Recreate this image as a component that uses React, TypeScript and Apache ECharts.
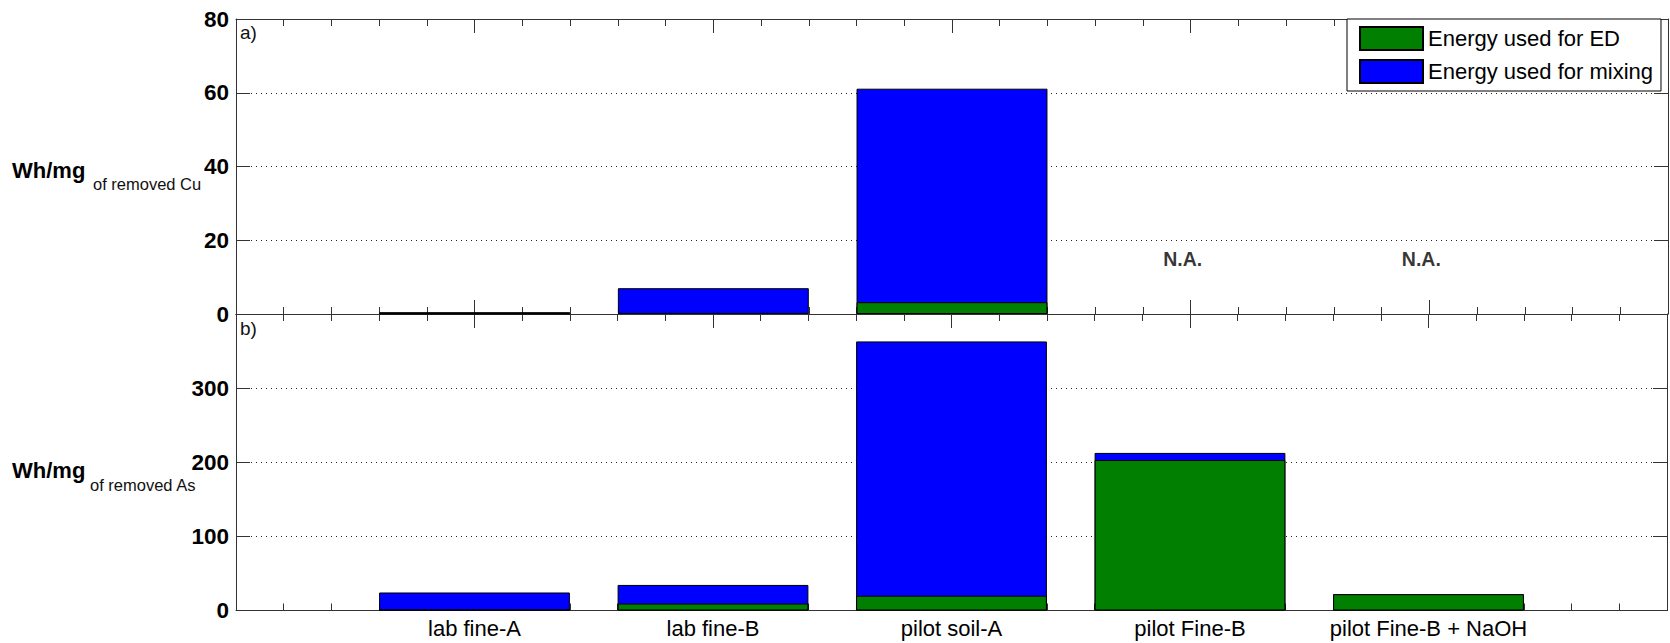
import React, { useEffect, useRef } from 'react';
import * as echarts from 'echarts';

// ---- data ----
const categories = ['lab fine-A', 'lab fine-B', 'pilot soil-A', 'pilot Fine-B', 'pilot Fine-B + NaOH'];
const categoryPositions = [1, 2, 3, 4, 5];
const seriesNames = ['Energy used for ED', 'Energy used for mixing'];
// panel a) Wh/mg of removed Cu
const cuEnergyED: (number | null)[] = [0.1, 0.3, 3.2, null, null];
const cuEnergyMixing: (number | null)[] = [0.4, 6.7, 57.9, null, null];
const cuNotAvailablePositions = [4, 5];
const cuNotAvailableLabelValue = 15;
// panel b) Wh/mg of removed As
const asEnergyED: (number | null)[] = [1, 9.4, 20, 203, 22];
const asEnergyMixing: (number | null)[] = [23.3, 25.1, 343, 9.6, 0];
// axes
const cuTickValues = [0, 20, 40, 60, 80];
const asTickValues = [0, 100, 200, 300, 400];
const xMin = 0;
const xMax = 6;

const FONT = '"Liberation Sans", Arial, Helvetica, sans-serif';
const AXIS_COLOR = '#333';
const GREEN = '#007f00';
const BLUE = '#0000ff';

function pairs(values: (number | null)[]) {
  const out: [number, number][] = [];
  values.forEach((v, i) => {
    if (v !== null) out.push([categoryPositions[i], v]);
  });
  return out;
}

// top of the stack = ED + mixing (drawn behind the ED bar)
function totals(a: (number | null)[], b: (number | null)[]) {
  return a.map((v, i) => (v === null || b[i] === null ? null : (v as number) + (b[i] as number)));
}

function catFormatter(v: number) {
  const r = Math.round(v);
  if (Math.abs(v - r) < 1e-6 && r >= 1 && r <= categories.length) return categories[r - 1];
  return '';
}

function makeX(gridIndex: number, position: 'top' | 'bottom', showLabels: boolean) {
  return {
    type: 'value',
    gridIndex,
    position,
    min: xMin,
    max: xMax,
    interval: 1,
    axisLine: { show: true, onZero: false, lineStyle: { color: AXIS_COLOR, width: 1 } },
    axisTick: { show: true, inside: true, length: 14, lineStyle: { color: AXIS_COLOR, width: 1 } },
    minorTick: { show: true, splitNumber: 5, length: 7, lineStyle: { color: AXIS_COLOR, width: 1 } },
    splitLine: { show: false },
    minorSplitLine: { show: false },
    axisLabel: {
      show: showLabels,
      formatter: catFormatter,
      fontSize: 22,
      color: '#000',
      margin: 7,
      fontFamily: FONT,
      showMinLabel: true,
      showMaxLabel: true,
    },
  };
}

function makeY(gridIndex: number, position: 'left' | 'right', ticks: number[], showLabels: boolean, hideMax: boolean) {
  const min = ticks[0];
  const max = ticks[ticks.length - 1];
  return {
    type: 'value',
    gridIndex,
    position,
    min,
    max,
    interval: ticks[1] - ticks[0],
    axisLine: { show: true, onZero: false, lineStyle: { color: AXIS_COLOR, width: 1 } },
    axisTick: { show: true, inside: true, length: 14, lineStyle: { color: AXIS_COLOR, width: 1 } },
    splitLine: {
      show: showLabels,
      lineStyle: { color: '#222', width: 1, type: [1, 4] },
    },
    axisLabel: {
      show: showLabels,
      fontSize: 22.5,
      fontWeight: 'bold',
      color: '#000',
      margin: 7,
      fontFamily: FONT,
      formatter: (v: number) => (hideMax && v === max ? '' : String(v)),
    },
  };
}

function barSeries(name: string, color: string, data: (number | null)[], axisIndex: number) {
  return {
    type: 'bar',
    name,
    xAxisIndex: axisIndex,
    yAxisIndex: axisIndex,
    barWidth: '80%',
    barGap: '-100%',
    data: pairs(data),
    itemStyle: { color, borderColor: '#000', borderWidth: 1 },
    emphasis: { disabled: true },
  };
}

export default function App() {
  const ref = useRef<HTMLDivElement>(null);

  useEffect(() => {
    if (!ref.current) return;
    const chart = echarts.init(ref.current, undefined, { renderer: 'svg' });
    const option = {
      animation: false,
      textStyle: { fontFamily: FONT },
      grid: [
        { left: 236, top: 19, width: 1432, height: 295 },
        { left: 236, top: 314, width: 1432, height: 296.5 },
      ],
      xAxis: [
        makeX(0, 'bottom', false),
        makeX(0, 'top', false),
        makeX(1, 'bottom', true),
        makeX(1, 'top', false),
      ],
      yAxis: [
        makeY(0, 'left', cuTickValues, true, false),
        makeY(0, 'right', cuTickValues, false, false),
        makeY(1, 'left', asTickValues, true, true),
        makeY(1, 'right', asTickValues, false, false),
      ],
      legend: {
        data: seriesNames,
        orient: 'vertical',
        left: 1347,
        top: 19,
        itemWidth: 63,
        itemHeight: 23,
        itemGap: 8,
        padding: [7, 8, 7, 12],
        borderColor: '#000',
        borderWidth: 1,
        backgroundColor: '#fff',
        icon: 'rect',
        selectedMode: false,
        textStyle: { fontSize: 22, color: '#000', fontFamily: FONT },
      },
      series: [
        barSeries(seriesNames[1], BLUE, totals(cuEnergyED, cuEnergyMixing), 0),
        barSeries(seriesNames[0], GREEN, cuEnergyED, 0),
        barSeries(seriesNames[1], BLUE, totals(asEnergyED, asEnergyMixing), 2),
        barSeries(seriesNames[0], GREEN, asEnergyED, 2),
        {
          type: 'scatter',
          name: 'na',
          xAxisIndex: 0,
          yAxisIndex: 0,
          silent: true,
          symbolSize: 1,
          itemStyle: { color: 'rgba(0,0,0,0)' },
          data: cuNotAvailablePositions.map((x) => [x, cuNotAvailableLabelValue]),
          label: {
            show: true,
            position: 'inside',
            formatter: 'N.A.',
            offset: [-8, 0],
            fontSize: 19.5,
            fontWeight: 'bold',
            color: '#000',
            fontFamily: FONT,
          },
        },
      ],
      graphic: [
        { type: 'text', left: 240, top: 23, style: { text: 'a)', font: `19px ${FONT}`, fill: '#111' } },
        { type: 'text', left: 240, top: 319, style: { text: 'b)', font: `19px ${FONT}`, fill: '#111' } },
        {
          type: 'text', x: 12, y: 170,
          style: { text: 'Wh/mg', font: `bold 22px ${FONT}`, fill: '#000', verticalAlign: 'middle', align: 'left' },
        },
        {
          type: 'text', x: 93, y: 184,
          style: { text: 'of removed Cu', font: `16.5px ${FONT}`, fill: '#111', verticalAlign: 'middle', align: 'left' },
        },
        {
          type: 'text', x: 12, y: 470,
          style: { text: 'Wh/mg', font: `bold 22px ${FONT}`, fill: '#000', verticalAlign: 'middle', align: 'left' },
        },
        {
          type: 'text', x: 90, y: 485,
          style: { text: 'of removed As', font: `16.5px ${FONT}`, fill: '#111', verticalAlign: 'middle', align: 'left' },
        },
      ],
    };
    chart.setOption(option as any);
    return () => chart.dispose();
  }, []);

  return (
    <div
      ref={ref}
      style={{ position: 'fixed', left: 0, top: 0, width: 1670, height: 643, background: '#fff' }}
    />
  );
}
